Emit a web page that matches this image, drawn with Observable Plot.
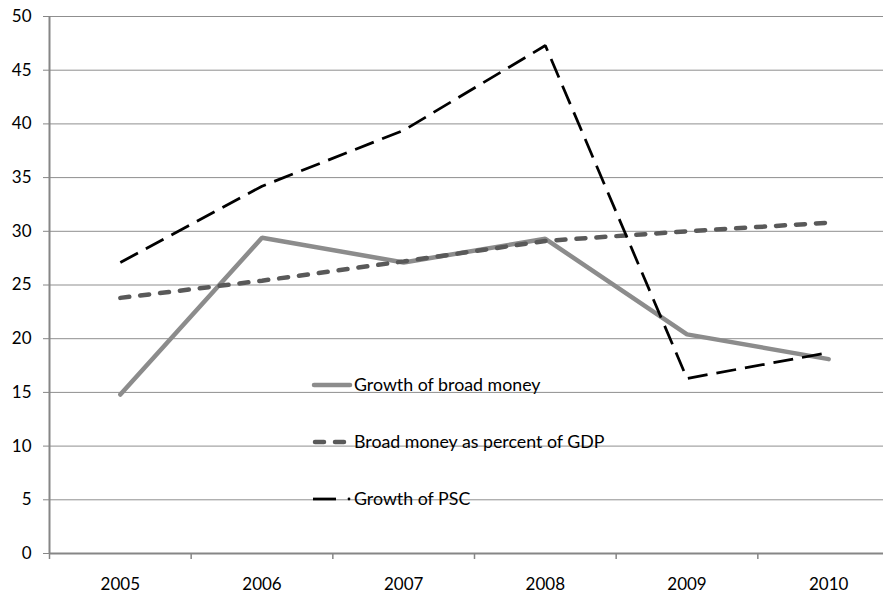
<!DOCTYPE html>
<html>
<head>
<meta charset="utf-8">
<script src="https://cdn.jsdelivr.net/npm/d3@7"></script>
<script src="https://cdn.jsdelivr.net/npm/@observablehq/plot@0.6"></script>
<style>
  html, body { margin: 0; padding: 0; background: #fff; }
  #chart svg { display: block; }
</style>
</head>
<body>
<div id="chart"></div>
<script>
// Monetary indicators, 2005–2010 (percent)
const years = [2005, 2006, 2007, 2008, 2009, 2010];
const broadMoneyGrowth = [14.8, 29.4, 27.1, 29.3, 20.4, 18.1];
const broadMoneyGdp = [23.8, 25.4, 27.2, 29.1, 30.0, 30.8];
const pscGrowth = [27.1, 34.2, 39.4, 47.3, 16.3, 18.7];
const yTicks = [0, 5, 10, 15, 20, 25, 30, 35, 40, 45, 50];
const seriesNames = ["Growth of broad money", "Broad money as percent of GDP", "Growth of PSC"];

const FONT = "Lato, 'Open Sans', sans-serif";
const AXIS = "#868686";
const GRID = "#8f8f8f";

// Series styles
const styles = [
  {stroke: "#8c8c8c", strokeWidth: 4.5, strokeDasharray: null, strokeLinecap: "round"},
  {stroke: "#595959", strokeWidth: 4.5, strokeDasharray: "9,11", strokeLinecap: "round"},
  {stroke: "#000000", strokeWidth: 2.75, strokeDasharray: "20,9", strokeLinecap: "butt"}
];
const values = [broadMoneyGrowth, broadMoneyGdp, pscGrowth];

// Category boundaries (ticks sit between years)
const boundaries = d3.range(years.length + 1).map(i => years[0] - 0.5 + i);

const rows = values.map((vals, s) => years.map((year, i) => ({year, value: vals[i], series: seriesNames[s]})));

const chart = Plot.plot({
  width: 883,
  height: 593,
  marginLeft: 49,
  marginTop: 16,
  marginBottom: 40,
  marginRight: 0,
  style: {fontFamily: FONT, fontSize: "17px", color: "#000", background: "#fff"},
  x: {type: "linear", domain: [boundaries[0], boundaries[boundaries.length - 1]], range: [49, 899]},
  y: {domain: [0, 50]},
  marks: [
    Plot.ruleY(yTicks.filter(d => d > 0), {stroke: GRID, strokeWidth: 1}),
    Plot.axisY({ticks: yTicks, tickSize: 6, tickPadding: 12, stroke: AXIS, label: null, tickFormat: d => String(d)}),
    Plot.axisX({ticks: boundaries, tickSize: 6, stroke: AXIS, strokeWidth: 1.5, label: null, tickFormat: () => ""}),
    Plot.axisX({ticks: years, tickSize: 0, tickPadding: 24, label: null, tickFormat: d => String(d)}),
    Plot.ruleX([boundaries[0]], {stroke: AXIS, strokeWidth: 2}),
    Plot.ruleY([0], {stroke: AXIS, strokeWidth: 2}),
    ...rows.map((data, s) => Plot.line(data, {
      x: "year", y: "value",
      stroke: styles[s].stroke,
      strokeWidth: styles[s].strokeWidth,
      strokeDasharray: styles[s].strokeDasharray,
      strokeLinecap: styles[s].strokeLinecap,
      strokeLinejoin: "miter"
    }))
  ]
});

document.getElementById("chart").appendChild(chart);

// Legend drawn inside the plot area
const svg = d3.select(chart);
const legend = svg.append("g").attr("transform", "translate(313,0)").attr("text-anchor", "start");
const rowY = [385, 442, 499];
seriesNames.forEach((name, s) => {
  const g = legend.append("g").attr("transform", `translate(0,${rowY[s]})`);
  if (s === 0) {
    g.append("line").attr("x1", 1).attr("x2", 37).attr("y1", 0).attr("y2", 0)
      .attr("stroke", styles[0].stroke).attr("stroke-width", 4.5).attr("stroke-linecap", "round");
  } else if (s === 1) {
    g.append("line").attr("x1", 2).attr("x2", 36).attr("y1", 0).attr("y2", 0)
      .attr("stroke", styles[1].stroke).attr("stroke-width", 4.5).attr("stroke-linecap", "round")
      .attr("stroke-dasharray", "9,11");
  } else {
    g.append("line").attr("x1", 0).attr("x2", 23).attr("y1", 0).attr("y2", 0)
      .attr("stroke", styles[2].stroke).attr("stroke-width", 2.75);
    g.append("circle").attr("cx", 36).attr("cy", 0).attr("r", 1.4).attr("fill", styles[2].stroke);
  }
  g.append("text").attr("x", 41).attr("y", 6)
    .attr("text-anchor", "start")
    .attr("font-family", FONT).attr("font-size", 17.8).attr("fill", "#000")
    .text(name);
});
</script>
</body>
</html>
